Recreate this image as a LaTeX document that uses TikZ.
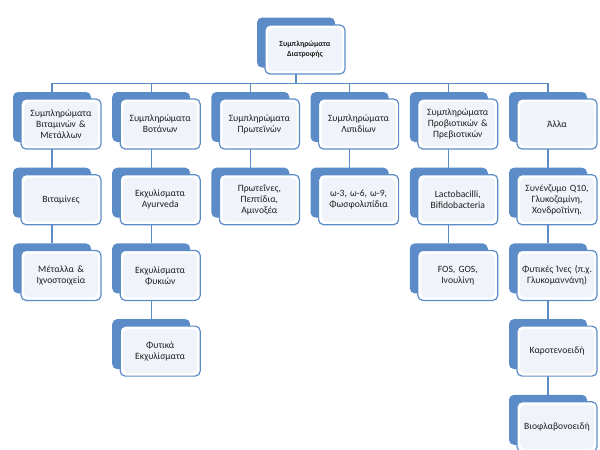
\documentclass[tikz,border=0pt]{standalone}
\usepackage{fontspec}
\setmainfont{Carlito}
\usepackage{tikz}
\usetikzlibrary{shapes, positioning, calc, backgrounds}

\definecolor{cardblue}{RGB}{92,140,200}
\definecolor{cardinner}{RGB}{240,243,249}
\definecolor{cardtext}{RGB}{30,30,30}

\tikzset{
  card/.style={rectangle, rounded corners=5pt, draw=cardblue, line width=1.2pt, fill=white,
    minimum width=80pt, minimum height=50pt, text width=76pt, inner xsep=2pt, align=center,
    text=cardtext, font=\fontsize{9.6}{11}\selectfont,
    path picture={\fill[cardinner] ([shift={(3pt,-3pt)}]path picture bounding box.north west)
      rectangle ([shift={(-3pt,3pt)}]path picture bounding box.south east);}},
  backcard/.style={rectangle, rounded corners=5pt, fill=cardblue, minimum width=78pt, minimum height=50pt},
  link/.style={draw=cardblue, line width=1.3pt}
}

\begin{document}
\begin{tikzpicture}[x=1pt, y=-1pt]
  \useasboundingbox (0,0) rectangle (600,450);
  \node[card, font=\bfseries\fontsize{7.8}{9.8}\selectfont, minimum height=49pt] (diatrofi) at (305,49.5) {Συμπληρώματα\\Διατροφής};
  % first level
  \node[card] (vitam) at (61,124) {Συμπληρώματα\\Βιταμινών \&\\Μετάλλων};
  \node[card, right=18pt of vitam] (votan) {Συμπληρώματα\\Βοτάνων};
  \node[card, right=18pt of votan] (prot) {Συμπληρώματα\\Πρωτεϊνών};
  \node[card, right=18pt of prot] (lip) {Συμπληρώματα\\Λιπιδίων};
  \node[card, right=18pt of lip] (probio) {Συμπληρώματα\\Προβιοτικών \&\\Πρεβιοτικών};
  \node[card, right=18pt of probio] (alla) {Άλλα};
  % columns
  \node[card, below=24.5pt of vitam] (vitamines) {Βιταμίνες};
  \node[card, below=24.5pt of vitamines] (metalla) {Μέταλλα \&\\Ιχνοστοιχεία};
  \node[card, below=24.5pt of votan] (ayurveda) {Εκχυλίσματα\\Ayurveda};
  \node[card, below=24.5pt of ayurveda] (fykia) {Εκχυλίσματα\\Φυκιών};
  \node[card, below=24.5pt of fykia] (fytika) {Φυτικά\\Εκχυλίσματα};
  \node[card, below=24.5pt of prot] (peptidia) {Πρωτεΐνες,\\Πεπτίδια,\\Αμινοξέα};
  \node[card, below=24.5pt of lip] (omega) {ω-3, ω-6, ω-9,\\Φωσφολιπίδια};
  \node[card, below=24.5pt of probio] (lacto) {Lactobacilli,\\Bifidobacteria};
  \node[card, below=24.5pt of lacto] (inoulini) {FOS, GOS,\\Ινουλίνη};
  \node[card, below=24.5pt of alla] (q10) {Συνένζυμο Q10,\\Γλυκοζαμίνη,\\Χονδροϊτίνη,};
  \node[card, below=24.5pt of q10] (ines) {Φυτικές Ίνες (π.χ.\\Γλυκομαννάνη)};
  \node[card, below=24.5pt of ines] (karot) {Καροτενοειδή};
  \node[card, below=24.5pt of karot] (viofl) {Βιοφλαβονοειδή};

  \begin{scope}[on background layer]
    \foreach \n in {diatrofi,vitam,votan,prot,lip,probio,alla,vitamines,metalla,ayurveda,fykia,fytika,peptidia,omega,lacto,inoulini,q10,ines,karot,viofl}
      \node[backcard] (\n-b) at ([shift={(-9,-7)}]\n.center) {};
    \foreach \c in {vitam,votan,prot,lip,probio,alla}
      \draw[link] (diatrofi-b.south) -- ++(0,16) -| (\c-b.north);
    \path[link]
      (vitam-b.south) edge (vitamines-b.north)
      (vitamines-b.south) edge (metalla-b.north)
      (votan-b.south) edge (ayurveda-b.north)
      (ayurveda-b.south) edge (fykia-b.north)
      (fykia-b.south) edge (fytika-b.north)
      (prot-b.south) edge (peptidia-b.north)
      (lip-b.south) edge (omega-b.north)
      (probio-b.south) edge (lacto-b.north)
      (lacto-b.south) edge (inoulini-b.north)
      (alla-b.south) edge (q10-b.north)
      (q10-b.south) edge (ines-b.north)
      (ines-b.south) edge (karot-b.north)
      (karot-b.south) edge (viofl-b.north);
  \end{scope}
\end{tikzpicture}
\end{document}
